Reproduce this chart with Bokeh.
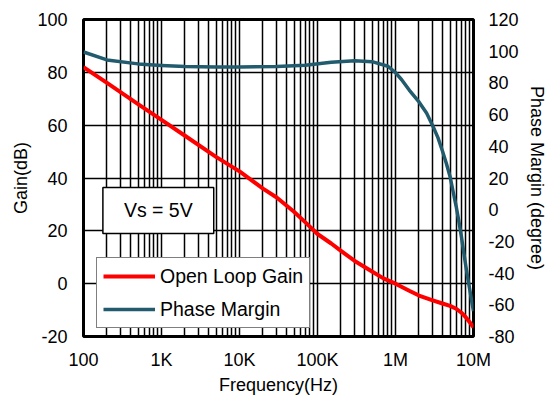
from bokeh.plotting import figure
from bokeh.models import (LinearAxis, Range1d, FixedTicker, Legend, LegendItem, Label)
from bokeh.embed import file_html
from bokeh.resources import INLINE

# ---- data ----
gain_freq = [1e2, 2e2, 5e2, 1e3, 2e3, 5e3, 1e4, 2e4, 3e4, 5e4, 7e4, 1e5,
             1.5e5, 2e5, 3e5, 5e5, 7e5, 1e6, 1.5e6, 2e6, 3e6, 4e6, 5e6,
             6e6, 7e6, 8e6, 9e6, 1e7]
gain_db = [82, 76, 68, 62, 56, 48, 42.5, 36, 32.6, 27.2, 23.2, 18.8,
           15.2, 12.4, 8.6, 4.6, 2.0, 0, -2.7, -4.5, -6.3, -7.5, -8.4,
           -9.5, -11, -12.8, -14.7, -16.5]

phase_freq = [1e2, 2e2, 5e2, 1e3, 2e3, 5e3, 1e4, 3e4, 7e4, 1.5e5, 3e5, 5e5,
              8e5, 1e6, 1.2e6, 1.5e6, 2e6, 2.5e6, 3e6, 3.5e6, 4e6, 4.5e6,
              5e6, 5.5e6, 6e6, 6.5e6, 7e6, 7.5e6, 8e6, 8.5e6, 9e6, 9.5e6, 1e7]
phase_deg = [99.5, 94.5, 92, 91, 90.3, 90, 90, 90.3, 91.2, 93, 94, 93.4,
             90.5, 86.5, 82, 75.5, 68, 61, 53, 45.5, 37, 29,
             21, 11, 2, -7.5, -17, -27, -36, -44, -51, -58, -64]

x_ticks = [1e2, 1e3, 1e4, 1e5, 1e6, 1e7]
x_tick_labels = ["100", "1K", "10K", "100K", "1M", "10M"]
x_minor = [m * d for d in [1e2, 1e3, 1e4, 1e5, 1e6] for m in range(2, 10)]
gain_ticks = [-20, 0, 20, 40, 60, 80, 100]
phase_ticks = [-80, -60, -40, -20, 0, 20, 40, 60, 80, 100, 120]

FONT = "Liberation Sans"
FS = "18px"
FS_BOX = "19.5px"
RED = "#FF0000"
BLUE = "#215B6D"

p = figure(width=549, height=399, x_axis_type="log",
           x_range=Range1d(1e2, 1e7), y_range=Range1d(-20, 100),
           output_backend="svg", toolbar_location=None,
           min_border_left=83, min_border_right=75,
           min_border_top=19, min_border_bottom=63)
p.extra_y_ranges = {"phase": Range1d(-80, 120)}

p.outline_line_color = "black"
p.outline_line_width = 3
p.background_fill_color = "white"
p.border_fill_color = "white"

# x axis
xa = p.xaxis[0]
xa.ticker = FixedTicker(ticks=x_ticks, minor_ticks=x_minor)
xa.major_label_overrides = {t: l for t, l in zip(x_ticks, x_tick_labels)}
xa.axis_label = "Frequency(Hz)"

# left axis
ya = p.yaxis[0]
ya.ticker = FixedTicker(ticks=gain_ticks)
ya.major_label_overrides = {t: str(t) for t in gain_ticks}
ya.axis_label = "Gain(dB)"

# right axis
ra = LinearAxis(y_range_name="phase", ticker=FixedTicker(ticks=phase_ticks),
                axis_label="Phase Margin (degree)")
ra.major_label_overrides = {t: str(t) for t in phase_ticks}
p.add_layout(ra, "right")

for ax in [xa, ya, ra]:
    ax.axis_line_color = None
    ax.major_tick_line_color = None
    ax.minor_tick_line_color = None
    ax.major_tick_out = 0
    ax.major_tick_in = 0
    ax.minor_tick_out = 0
    ax.minor_tick_in = 0
    ax.major_label_text_font = FONT
    ax.major_label_text_font_size = FS
    ax.major_label_text_color = "black"
    ax.axis_label_text_font = FONT
    ax.axis_label_text_font_size = FS
    ax.axis_label_text_font_style = "normal"
    ax.axis_label_text_color = "black"

xa.major_label_standoff = 13
xa.axis_label_standoff = 2
ya.major_label_standoff = 16
ya.axis_label_standoff = 3
ra.major_label_standoff = 15
ra.axis_label_standoff = 5

# grids
p.xgrid.ticker = xa.ticker
p.xgrid.grid_line_color = "black"
p.xgrid.grid_line_width = 1.5
p.xgrid.minor_grid_line_color = "black"
p.xgrid.minor_grid_line_width = 1.5
p.ygrid.ticker = ya.ticker
p.ygrid.grid_line_color = "black"
p.ygrid.grid_line_width = 1.5

# curves
r_gain = p.line(gain_freq, gain_db, line_color=RED, line_width=4,
                line_join="round")
r_phase = p.line(phase_freq, phase_deg, line_color=BLUE, line_width=3.5,
                 line_join="round", y_range_name="phase")

# Vs box
vs = Label(x=910, y=27.7, text="Vs = 5V", text_align="center",
           text_baseline="middle", text_font=FONT, text_font_size=FS_BOX,
           text_color="black", background_fill_color="white",
           border_line_color="black", border_line_width=1.5,
           padding=(21, 12))
p.add_layout(vs)

legend = Legend(items=[LegendItem(label="Open Loop Gain", renderers=[r_gain]),
                       LegendItem(label="Phase Margin", renderers=[r_phase])],
                location=(13, 8))
legend.label_text_font = FONT
legend.label_text_font_size = FS_BOX
legend.label_text_color = "black"
legend.glyph_width = 52
legend.glyph_height = 24
legend.label_height = 24
legend.label_standoff = 5
legend.spacing = 9
legend.padding = 6
legend.margin = 0
legend.border_line_color = "black"
legend.border_line_width = 1.5
legend.background_fill_color = "white"
legend.background_fill_alpha = 1.0
p.add_layout(legend)

open("out.html", "w").write(file_html(p, INLINE))
